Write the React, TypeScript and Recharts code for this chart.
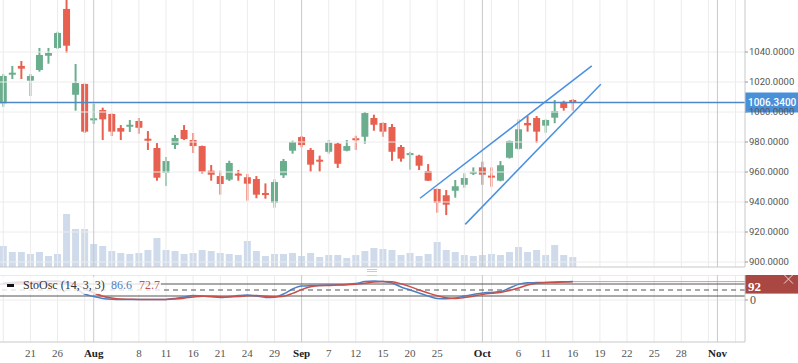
import React from 'react';
import { ComposedChart, LineChart, Line, Bar, XAxis, YAxis, ReferenceLine } from 'recharts';

// trading days shown (Jul 18 - Oct 16)
const dates = [
  'Jul 18', 'Jul 19', 'Jul 20', 'Jul 21', 'Jul 24', 'Jul 25', 'Jul 26', 'Jul 27', 'Jul 28', 'Jul 31',
  'Aug 1', 'Aug 2', 'Aug 3', 'Aug 4', 'Aug 7', 'Aug 8', 'Aug 9', 'Aug 10', 'Aug 11', 'Aug 14',
  'Aug 15', 'Aug 16', 'Aug 17', 'Aug 18', 'Aug 21', 'Aug 22', 'Aug 23', 'Aug 24', 'Aug 25', 'Aug 28',
  'Aug 29', 'Aug 30', 'Aug 31', 'Sep 1', 'Sep 5', 'Sep 6', 'Sep 7', 'Sep 8', 'Sep 11', 'Sep 12',
  'Sep 13', 'Sep 14', 'Sep 15', 'Sep 18', 'Sep 19', 'Sep 20', 'Sep 21', 'Sep 22', 'Sep 25', 'Sep 26',
  'Sep 27', 'Sep 28', 'Sep 29', 'Oct 2', 'Oct 3', 'Oct 4', 'Oct 5', 'Oct 6', 'Oct 9', 'Oct 10',
  'Oct 11', 'Oct 12', 'Oct 13', 'Oct 16'
];

const opens = [
  1005.8, 1024.9, 1030.7, 1020.9, 1028.0, 1037.5, 1042.7, 1068.7, 1011.5, 1018.7,
  994.8, 1001.3, 998.7, 989.3, 990.2, 994.0, 982.2, 976.0, 959.5, 978.0,
  988.0, 981.3, 977.3, 960.9, 957.3, 954.9, 958.9, 956.5, 955.3, 946.0,
  939.5, 957.8, 974.2, 983.3, 974.7, 968.2, 973.5, 978.9, 974.2, 982.5,
  983.5, 996.0, 992.7, 990.0, 976.7, 972.0, 970.9, 960.7, 948.7, 944.5,
  947.5, 951.5, 959.7, 963.1, 957.6, 954.2, 969.5, 975.5, 992.7, 996.0,
  990.9, 996.2, 1006.7, 1008.0
];
const highs = [
  1025.3, 1030.7, 1034.0, 1025.3, 1042.7, 1042.7, 1053.5, 1083.3, 1032.0, 1019.0,
  1005.5, 1002.9, 999.0, 991.3, 994.7, 996.0, 987.3, 979.3, 970.0, 984.7,
  991.3, 986.0, 977.6, 964.7, 960.9, 967.5, 961.3, 958.7, 957.3, 952.4,
  955.1, 968.7, 980.9, 984.0, 976.0, 970.9, 981.3, 979.5, 981.3, 984.2,
  1000.0, 998.2, 993.0, 992.0, 978.0, 973.5, 971.5, 965.3, 949.0, 948.0,
  954.7, 959.1, 963.1, 966.9, 963.1, 967.3, 981.0, 995.1, 997.3, 997.3,
  995.0, 1008.0, 1007.5, 1008.7
];
const lows = [
  1003.5, 1022.0, 1022.0, 1010.7, 1026.9, 1032.2, 1042.0, 1039.5, 1000.9, 986.0,
  992.0, 981.3, 984.0, 981.3, 986.7, 985.5, 974.7, 954.2, 950.7, 975.3,
  981.3, 972.7, 959.0, 954.2, 944.9, 954.0, 954.2, 940.9, 942.5, 942.2,
  936.2, 956.0, 972.2, 976.5, 960.2, 960.2, 972.2, 962.7, 973.8, 974.7,
  978.9, 987.5, 983.5, 967.5, 966.9, 961.5, 961.3, 954.0, 932.9, 931.3,
  942.9, 949.5, 958.0, 951.5, 950.2, 953.8, 969.0, 975.0, 986.9, 979.5,
  986.2, 992.5, 1000.9, 1000.9
];
const closes = [
  1024.0, 1026.2, 1028.9, 1024.0, 1038.0, 1039.3, 1052.7, 1044.2, 1019.3, 986.9,
  995.8, 995.1, 986.9, 986.9, 991.5, 989.5, 981.7, 956.2, 967.3, 982.7,
  982.0, 977.3, 960.2, 958.2, 952.0, 966.0, 957.6, 952.2, 944.9, 945.5,
  953.3, 967.3, 980.0, 978.0, 964.9, 967.8, 979.5, 965.5, 977.3, 982.0,
  999.3, 991.5, 986.9, 973.5, 968.9, 972.6, 964.2, 954.2, 939.5, 938.2,
  950.5, 956.0, 960.2, 958.2, 957.3, 964.5, 980.7, 988.5, 991.1, 986.9,
  994.7, 1000.7, 1002.7, 1006.34
];
// volume, millions
const volumes = [
  4.2, 3.0, 3.0, 2.6, 3.0, 2.2, 2.6, 10.6, 7.6, 7.6,
  4.6, 4.2, 3.2, 2.8, 2.6, 2.8, 3.4, 5.8, 3.4, 3.2,
  2.6, 2.8, 3.4, 3.2, 2.8, 2.6, 2.4, 5.2, 3.2, 2.2,
  2.6, 2.6, 2.8, 2.2, 2.8, 2.0, 2.4, 2.4, 1.8, 2.4,
  3.2, 3.8, 3.6, 3.4, 2.4, 2.8, 2.2, 2.6, 5.0, 3.4,
  3.0, 2.4, 2.2, 2.4, 2.6, 2.4, 3.0, 4.0, 3.0, 3.4,
  2.4, 4.4, 2.4, 2.0
];
// StoOsc (14, 3, 3)
const stochK = [
  85, 88, 90, 88, 92, 94, 95, 80, 60, 30,
  17, 8, 4, 3, 3, 3, 3, 2, 3, 8,
  15, 22, 20, 16, 13, 17, 22, 25, 20, 13,
  14, 30, 55, 70, 72, 73, 75, 76, 78, 82,
  92, 95, 92, 85, 65, 50, 35, 20, 8, 6,
  10, 20, 28, 35, 38, 42, 60, 78, 86, 87,
  88, 90, 91, 92
];
const stochD = [
  80, 84, 87, 89, 90, 92, 93, 90, 78, 57,
  36, 19, 10, 5, 4, 3, 3, 3, 3, 5,
  9, 15, 19, 19, 16, 15, 17, 21, 22, 19,
  16, 19, 33, 52, 66, 72, 73, 75, 76, 79,
  84, 90, 93, 91, 81, 67, 50, 35, 21, 11,
  8, 12, 19, 28, 34, 38, 47, 60, 75, 84,
  87, 88, 90, 91
];

const priceTicks = [900, 920, 940, 960, 980, 1000, 1020, 1040];
const tickIdx = [3, 6, 10, 15, 18, 21, 24, 27, 30, 33, 36, 39, 42, 45, 48, 53, 57, 60, 63, 66, 69, 72, 75, 79];
const tickLabels = ['21', '26', 'Aug', '8', '11', '16', '21', '24', '29', 'Sep', '7', '12', '15', '20', '25', 'Oct', '6', '11', '16', '19', '22', '25', '28', 'Nov'];
const monthIdx = [10, 33, 53, 79];
const gridIdx = [0, 3, 6, 9, 12, 15, 18, 21, 24, 27, 30, 33, 36, 39, 42, 45, 48, 51, 54, 57, 60, 63, 66, 69, 72, 75, 78, 81];
const upperTrend = [{ x: 46.1, y: 942.5 }, { x: 65.1, y: 1030.7 }];
const lowerTrend = [{ x: 51.1, y: 925.1 }, { x: 66.1, y: 1018.5 }];
const lastClose = 1006.34;
const lastStoch = 92;
const legendK = 86.6;
const legendD = 72.7;

const X_DOMAIN: [number, number] = [-0.365, 82.05];
const P_DOMAIN: [number, number] = [896.67, 1074.67];

const GREEN = '#6aae8e';
const RED = '#e8604f';
const GRID = '#ececec';
const MONTH = '#c9c9c9';

const candles = dates.map((date, i) => ({
  i, date, o: opens[i], h: highs[i], l: lows[i], c: closes[i], v: volumes[i]
}));
const stoch = dates.map((date, i) => ({ i, date, k: stochK[i], d: stochD[i] }));

const Candle = (props: any) => {
  const { x, y, width, height, payload } = props;
  const { o, h, l, c } = payload;
  const color = c >= o ? GREEN : RED;
  const py = (v: number) => (h === l ? y : y + ((h - v) / (h - l)) * height);
  const top = py(Math.max(o, c));
  const bot = py(Math.min(o, c));
  const cx = x + width / 2;
  return (
    <g>
      <line x1={cx} x2={cx} y1={y} y2={y + height} stroke={color} strokeWidth={2} />
      <rect x={x} y={top} width={width} height={Math.max(bot - top, 2)} fill={color} />
    </g>
  );
};

const PriceTag = (props: any) => {
  const vb = props.viewBox;
  if (!vb) return null;
  const x = vb.x + vb.width;
  return (
    <g>
      <rect x={x} y={vb.y - 10} width={53} height={20} fill="#4a90d9" />
      <text x={x + 3} y={vb.y} dy="0.36em" fill="#fff" fontSize={10} fontWeight={500} fontFamily="Roboto">
        {props.text}
      </text>
    </g>
  );
};

const StochTag = (props: any) => {
  const vb = props.viewBox;
  if (!vb) return null;
  const x = vb.x + vb.width;
  return (
    <g>
      <rect x={x} y={vb.y - 7} width={53} height={19} fill="#a94843" />
      <text x={x + 3} y={vb.y + 4.5} dy="0.36em" fill="#fff" fontSize={13} fontWeight="bold" fontFamily="Liberation Serif">
        {props.text}
      </text>
      <line x1={x + 39} y1={vb.y - 7} x2={x + 48} y2={vb.y + 2} stroke="#ddd" />
      <line x1={x + 48} y1={vb.y - 7} x2={x + 39} y2={vb.y + 2} stroke="#ddd" />
    </g>
  );
};

const XTick = (props: any) => {
  const { x, y, payload } = props;
  const pos = tickIdx.indexOf(payload.value);
  const label = tickLabels[pos] ?? '';
  const isMonth = monthIdx.includes(payload.value);
  return (
    <text x={x} y={y} dy="0.71em" textAnchor="middle" fontSize={11} fontFamily="Liberation Serif"
      fill={isMonth ? '#222' : '#555'} fontWeight={isMonth ? 'bold' : 'normal'}>
      {label}
    </text>
  );
};

const gridLines = (yAxisId: string | number) => [
  ...gridIdx.map((g) => (
    <ReferenceLine key={'g' + g} yAxisId={yAxisId} x={g} stroke={GRID} strokeWidth={1} />
  )),
  ...monthIdx.map((m) => (
    <ReferenceLine key={'m' + m} yAxisId={yAxisId} x={m} stroke={MONTH} strokeWidth={1} />
  ))
];

const App: React.FC = () => {
  return (
    <div style={{ position: 'absolute', left: 0, top: 0, width: 798, height: 363, background: '#fff' }}>
      <div style={{ position: 'absolute', left: 0, top: 0 }}>
        <ComposedChart width={798} height={268} data={candles} barGap={-7} barSize={7}
          margin={{ top: 0, right: 0, left: 0, bottom: 0 }}>
          <XAxis dataKey="i" type="number" domain={X_DOMAIN} allowDataOverflow height={1}
            ticks={gridIdx} tick={false} tickLine={false} axisLine={{ stroke: '#c8c8c8' }} />
          <YAxis yAxisId="p" orientation="right" width={53} domain={P_DOMAIN} allowDataOverflow
            ticks={priceTicks} tickFormatter={(v: number) => v.toFixed(4)}
            tick={{ fontSize: 9.5, fill: '#555', fontFamily: 'Roboto' }}
            tickSize={3} tickMargin={1} axisLine={{ stroke: '#c8c8c8' }} tickLine={{ stroke: '#999' }} />
          <YAxis yAxisId="v" hide domain={[0, 53.4]} />
          {priceTicks.map((t) => (
            <ReferenceLine key={'p' + t} yAxisId="p" y={t} stroke={GRID} strokeWidth={1} />
          ))}
          {gridLines('p')}
          <Bar yAxisId="v" dataKey="v" fill="#cfdbeb" isAnimationActive={false} />
          <Bar yAxisId="p" dataKey={(d: any) => [d.l, d.h]} shape={<Candle />} isAnimationActive={false} />
          <ReferenceLine yAxisId="p" y={lastClose} stroke="#4f86c6" strokeWidth={1.5}
            label={<PriceTag text={lastClose.toFixed(4)} />} />
          <ReferenceLine yAxisId="p" segment={upperTrend} stroke="#4a90e2" strokeWidth={1.5} ifOverflow="visible" />
          <ReferenceLine yAxisId="p" segment={lowerTrend} stroke="#4a90e2" strokeWidth={1.5} ifOverflow="visible" />
        </ComposedChart>
      </div>

      {/* pane resize grip */}
      <div style={{ position: 'absolute', left: 367, top: 269, width: 10, height: 5, borderTop: '1px solid #ccc', borderBottom: '1px solid #ccc' }} />
      <div style={{ position: 'absolute', left: 367, top: 271, width: 10, height: 0, borderTop: '1px solid #ccc' }} />

      <div style={{ position: 'absolute', left: 0, top: 275 }}>
        <LineChart width={798} height={88} data={stoch} margin={{ top: 0, right: 0, left: 0, bottom: 0 }}>
          <XAxis dataKey="i" type="number" domain={X_DOMAIN} allowDataOverflow height={21}
            ticks={tickIdx} interval={0} tick={<XTick />} tickLine={false} tickSize={0} tickMargin={7}
            axisLine={{ stroke: '#c8c8c8' }} />
          <YAxis orientation="right" width={53} domain={[-210, 125]} allowDataOverflow ticks={[0]}
            tick={{ fontSize: 12, fill: '#555', fontFamily: 'Liberation Serif' }}
            tickSize={3} tickMargin={2} axisLine={{ stroke: '#c8c8c8' }} tickLine={{ stroke: '#999' }} />
          <ReferenceLine y={125} stroke="#d8d8d8" />
          <ReferenceLine y={0} stroke={GRID} />
          {gridLines(0)}
          <ReferenceLine y={80} stroke="#555" />
          <ReferenceLine y={50} stroke="#555" strokeDasharray="5 4" />
          <ReferenceLine y={20} stroke="#555" />
          <ReferenceLine segment={[{ x: 63, y: lastStoch }, { x: X_DOMAIN[1], y: lastStoch }]} stroke="#c9a3a3" ifOverflow="visible" />
          <Line type="monotone" dataKey="k" stroke="#4d7fc2" strokeWidth={1.5} dot={false} isAnimationActive={false} />
          <Line type="monotone" dataKey="d" stroke="#c9504a" strokeWidth={1.5} dot={false} isAnimationActive={false} />
          <ReferenceLine y={lastStoch} stroke="none" label={<StochTag text={String(lastStoch)} />} />
        </LineChart>
      </div>

      {/* indicator legend */}
      <div style={{
        position: 'absolute', left: 0, top: 277, width: 161, height: 17, background: 'rgba(255,255,255,0.8)',
        fontFamily: 'Liberation Serif', fontSize: 12, lineHeight: '17px', whiteSpace: 'nowrap'
      }}>
        <span style={{ position: 'absolute', left: 7, top: 7, width: 7, height: 3, background: '#111' }} />
        <span style={{ position: 'absolute', left: 23, color: '#333' }}>StoOsc (14, 3, 3)</span>
        <span style={{ position: 'absolute', left: 111, color: '#4d7fc2' }}>{legendK.toFixed(1)}</span>
        <span style={{ position: 'absolute', left: 139, color: '#c9504a' }}>{legendD.toFixed(1)}</span>
      </div>
    </div>
  );
};

export default App;
